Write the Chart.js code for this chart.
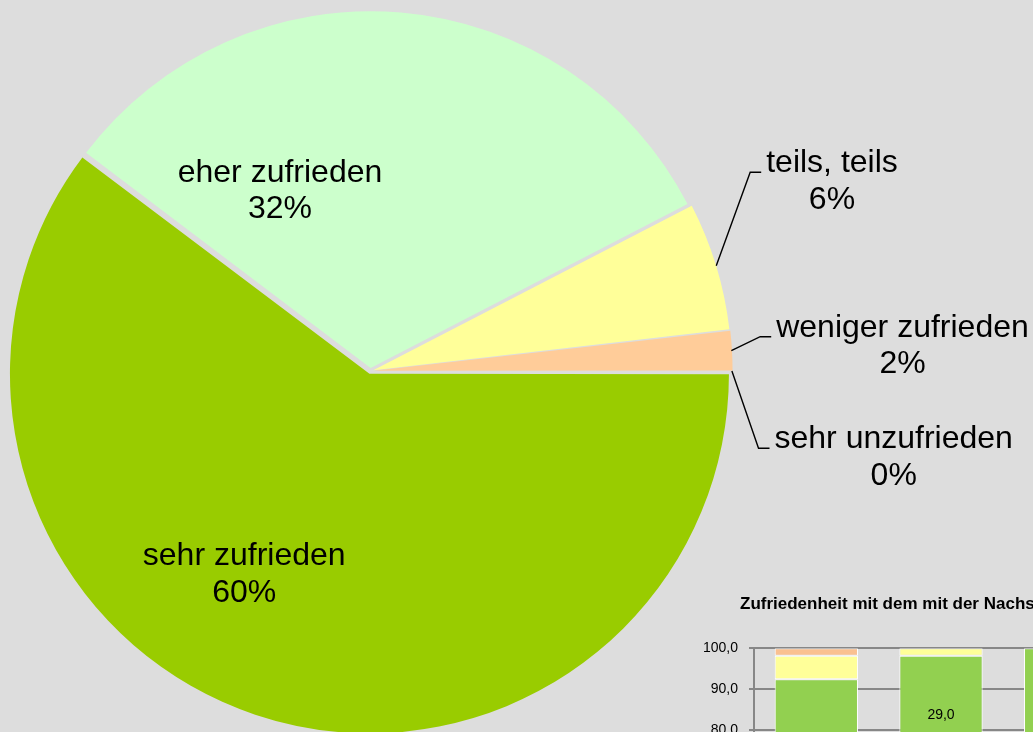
<!DOCTYPE html>
<html lang="de">
<head>
<meta charset="utf-8">
<title>Zufriedenheit</title>
<script src="https://cdn.jsdelivr.net/npm/chart.js@4.4.1/dist/chart.umd.min.js"></script>
<style>
  html, body { margin: 0; padding: 0; }
  body { width: 1033px; height: 732px; overflow: hidden; background: #dddddd; position: relative; }
  #pie-wrap { position: absolute; left: 0; top: 0; width: 1033px; height: 732px; }
  #bar-wrap { position: absolute; left: 695px; top: 580px; width: 433px; height: 496px; }
</style>
</head>
<body>
<div id="pie-wrap"><canvas id="pieChart"></canvas></div>
<div id="bar-wrap"><canvas id="barChart"></canvas></div>
<script>
// answer categories and their shares (%)
const pieLabels = ['sehr zufrieden', 'eher zufrieden', 'teils, teils', 'weniger zufrieden', 'sehr unzufrieden'];
const pieValues = [60.3, 32.1, 5.8, 1.8, 0];
const pieColors = ['#99cc00', '#ccffcc', '#ffff99', '#ffcc99', '#ff9999'];

// small stacked bar chart in the lower right corner
const barTitle = 'Zufriedenheit mit dem mit der Nachsorge';
const barCategories = ['1', '2', '3'];
const barSehr = [60.3, 69.2, 70.0];
const barEher = [32.1, 29.0, 30.0];
const barTeils = [5.8, 1.8, 0];
const barWeniger = [1.8, 0, 0];
const barUnzufrieden = [0, 0, 0];
const barTickStep = 10;

const FONT = '"Liberation Sans", Arial, sans-serif';

// label + percentage for every slice, with leader lines for the small ones
const sliceLabels = {
  id: 'sliceLabels',
  afterDatasetsDraw(chart, args, opts) {
    const ctx = chart.ctx;
    const meta = chart.getDatasetMeta(0);
    const values = chart.data.datasets[0].data;
    const total = values.reduce((a, b) => a + b, 0);
    ctx.save();
    ctx.font = opts.size + 'px ' + FONT;
    ctx.fillStyle = '#000';
    ctx.strokeStyle = '#000';
    ctx.lineWidth = 1.4;
    meta.data.forEach((arc, i) => {
      const spot = opts.spots[i];
      const { x, y, startAngle, endAngle, outerRadius } =
        arc.getProps(['x', 'y', 'startAngle', 'endAngle', 'outerRadius'], true);
      const lines = [chart.data.labels[i], Math.round(values[i] / total * 100) + '%'];
      const tx = x + spot.rx * outerRadius;
      const ty = y + spot.ry * outerRadius;
      if (spot.leader) {
        const mid = (startAngle + endAngle) / 2;
        const r = outerRadius + 5;
        const left = tx - ctx.measureText(lines[0]).width / 2;
        ctx.beginPath();
        ctx.moveTo(x + Math.cos(mid) * r, y + Math.sin(mid) * r);
        ctx.lineTo(left - 16, ty);
        ctx.lineTo(left - 5, ty);
        ctx.stroke();
      }
      ctx.textAlign = 'center';
      ctx.textBaseline = 'alphabetic';
      lines.forEach((t, k) => ctx.fillText(t, tx, ty + k * opts.lineHeight));
    });
    ctx.restore();
  }
};

// value inside the green segments of the stacked bars
const segmentValues = {
  id: 'segmentValues',
  afterDatasetsDraw(chart) {
    const ctx = chart.ctx;
    ctx.save();
    ctx.font = '14px ' + FONT;
    ctx.fillStyle = '#000';
    ctx.textAlign = 'center';
    ctx.textBaseline = 'middle';
    chart.data.datasets.forEach((ds, i) => {
      if (!ds.showValue) return;
      chart.getDatasetMeta(i).data.forEach((bar, j) => {
        const { x, y, base } = bar.getProps(['x', 'y', 'base'], true);
        ctx.fillText(ds.data[j].toFixed(1).replace('.', ','), x, (y + base) / 2);
      });
    });
    ctx.restore();
  }
};

// the bar chart title starts a bit right of the tick labels
const titleIndent = {
  id: 'titleIndent',
  afterLayout(chart, args, opts) {
    if (chart.titleBlock) chart.titleBlock.left = opts.left;
  }
};

new Chart(document.getElementById('pieChart'), {
  type: 'pie',
  data: {
    labels: pieLabels,
    datasets: [{
      data: pieValues,
      backgroundColor: pieColors,
      borderWidth: 0,
      offset: 12,
      rotation: 90,
      radius: 356.5
    }]
  },
  options: {
    responsive: true,
    maintainAspectRatio: false,
    animation: false,
    events: [],
    layout: { padding: { left: 0, right: 292.2, top: 10, bottom: 0 } },
    plugins: {
      legend: { display: false },
      tooltip: { enabled: false },
      sliceLabels: {
        size: 32,
        lineHeight: 36.7,
        spots: [
          { rx: -0.354, ry: 0.5442 },
          { rx: -0.2536, ry: -0.531 },
          { rx: 1.2948, ry: -0.5574, leader: true },
          { rx: 1.4926, ry: -0.0962, leader: true },
          { rx: 1.4679, ry: 0.2168, leader: true }
        ]
      }
    }
  },
  plugins: [sliceLabels]
});

new Chart(document.getElementById('barChart'), {
  type: 'bar',
  data: {
    labels: barCategories,
    datasets: [
      { label: 'sehr zufrieden', data: barSehr, backgroundColor: '#4f9a2e', showValue: true },
      { label: 'eher zufrieden', data: barEher, backgroundColor: '#92d050', showValue: true },
      { label: 'teils, teils', data: barTeils, backgroundColor: '#ffff99' },
      { label: 'weniger zufrieden', data: barWeniger, backgroundColor: '#fac090' },
      { label: 'sehr unzufrieden', data: barUnzufrieden, backgroundColor: '#ff9999' }
    ]
  },
  options: {
    responsive: true,
    maintainAspectRatio: false,
    animation: false,
    events: [],
    datasets: {
      bar: { borderColor: '#ffffff', borderWidth: 1, borderSkipped: false, barPercentage: 0.668, categoryPercentage: 1 }
    },
    layout: { padding: { left: 7, right: 0, top: 0, bottom: 0.7 } },
    scales: {
      x: { stacked: true, display: false },
      y: {
        stacked: true,
        min: 0,
        max: 100,
        afterFit(scale) { scale.width = 52; },
        ticks: {
          stepSize: barTickStep,
          padding: 11,
          color: '#000',
          font: { family: FONT, size: 14 },
          callback: v => v.toFixed(1).replace('.', ',')
        },
        grid: { color: '#878787', lineWidth: 2, tickLength: 5 },
        border: { color: '#878787', width: 2 }
      }
    },
    plugins: {
      legend: { display: false },
      tooltip: { enabled: false },
      titleIndent: { left: 45 },
      title: {
        display: true,
        text: barTitle,
        align: 'start',
        color: '#000',
        font: { family: FONT, size: 17, weight: 'bold' },
        padding: { top: 14, bottom: 33.9 }
      }
    }
  },
  plugins: [segmentValues, titleIndent]
});
</script>
</body>
</html>
